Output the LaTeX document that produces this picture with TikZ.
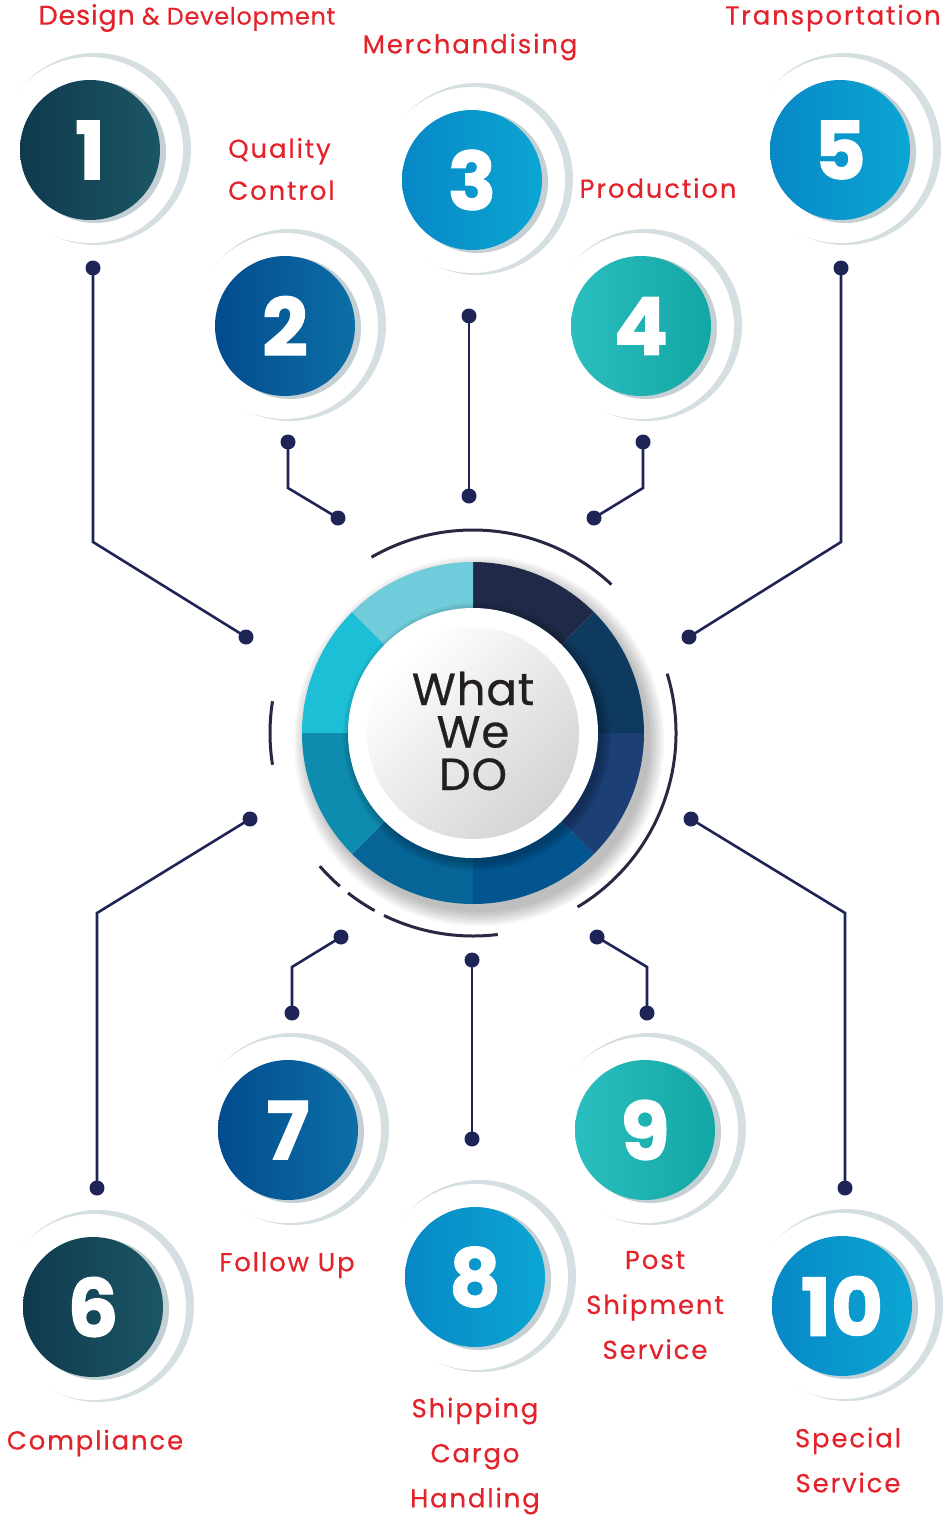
\documentclass[tikz,border=0pt]{standalone}
\usepackage{fontspec}
\setmainfont{Poppins}
\newfontfamily\lblfont[LetterSpace=7,FakeBold=0.4]{Poppins}
\newfontfamily\ddfont[LetterSpace=3,FakeBold=0.3]{Poppins}
\newfontfamily\cenfont[FakeBold=0.6,LetterSpace=2]{Poppins}
\newfontfamily\numfont[FakeBold=1.5,BoldFont={Poppins Bold}]{Poppins}
\definecolor{navy}{HTML}{1F2456}
\definecolor{arcc}{HTML}{262940}
\definecolor{lblred}{HTML}{E3232B}
\definecolor{segA}{HTML}{1E2A47}
\definecolor{segB}{HTML}{0F3A5F}
\definecolor{segC}{HTML}{1C3F75}
\definecolor{segD}{HTML}{02558F}
\definecolor{segE}{HTML}{066496}
\definecolor{segF}{HTML}{0E8CAF}
\definecolor{segG}{HTML}{1DBFD6}
\definecolor{segH}{HTML}{70CBDA}
\definecolor{dtL}{HTML}{0F3A4D}
\definecolor{dtR}{HTML}{1B5664}
\definecolor{blL}{HTML}{034B8E}
\definecolor{blR}{HTML}{0C6FA6}
\definecolor{cyL}{HTML}{0788C6}
\definecolor{cyR}{HTML}{0CA6D3}
\definecolor{tlL}{HTML}{2BBEBE}
\definecolor{tlR}{HTML}{12A6A4}
\definecolor{outsh}{HTML}{D5DEE1}
\definecolor{discsh}{HTML}{C5D0D4}
\definecolor{txtdark}{HTML}{231F20}
\newcommand\numdisc[6]{%
  \fill[outsh] (#2+5,-#3+1) circle (96);
  \fill[white] (#2,-#3) circle (93);
  \fill[discsh] (#2+5,-#3-2) circle (71);
  \shade[left color=#4,right color=#5] (#2,-#3) circle (70);
  \node[num] (#1) at (#2,-#3) {#6};
}
\begin{document}
\begin{tikzpicture}[x=1pt,y=1pt,
  conn/.style={draw=navy,line width=2.6pt},
  dot/.style={circle,fill=navy,inner sep=0pt,minimum size=15pt},
  lbl/.style={text=lblred,font=\lblfont\fontsize{26}{28}\selectfont,inner sep=0pt},
  arcl/.style={draw=arcc,line width=3pt},
  num/.style={text=white,font=\numfont\bfseries\fontsize{80}{80}\selectfont,inner sep=0pt}]
\useasboundingbox (0,0) rectangle (942,-1517);

% number discs
\numdisc{n1}{90}{150}{dtL}{dtR}{1}
\numdisc{n2}{285}{326}{blL}{blR}{2}
\numdisc{n3}{472}{180}{cyL}{cyR}{3}
\numdisc{n4}{641}{326}{tlL}{tlR}{4}
\numdisc{n5}{840}{150}{cyL}{cyR}{5}
\numdisc{n6}{93}{1307}{dtL}{dtR}{6}
\numdisc{n7}{288}{1130}{blL}{blR}{7}
\numdisc{n8}{475}{1277}{cyL}{cyR}{8}
\numdisc{n9}{645}{1130}{tlL}{tlR}{9}
\numdisc{n10}{842}{1306}{cyL}{cyR}{10}

% central ring shadow
\foreach \i in {0,...,7}{
  \fill[black,opacity=0.035] (479,-741) circle (171+2*\i);
}
\coordinate (c) at (473,-733);
\fill[segA] (c) -- ++(90:171) arc (90:45:171) -- cycle;
\fill[segB] (c) -- ++(45:171) arc (45:0:171) -- cycle;
\fill[segC] (c) -- ++(0:171) arc (0:-45:171) -- cycle;
\fill[segD] (c) -- ++(-45:171) arc (-45:-90:171) -- cycle;
\fill[segE] (c) -- ++(-90:171) arc (-90:-135:171) -- cycle;
\fill[segF] (c) -- ++(-135:171) arc (-135:-180:171) -- cycle;
\fill[segG] (c) -- ++(180:171) arc (180:135:171) -- cycle;
\fill[segH] (c) -- ++(135:171) arc (135:90:171) -- cycle;
\foreach \i in {0,...,4}{
  \fill[black,opacity=0.05] (477,-737) circle (126+2*\i);
}
\fill[white] (c) circle (125);
\shade[top color=white,bottom color=black!17,shading angle=45] (c) circle (106);
\node[text=txtdark,font=\cenfont\fontsize{45}{42.5}\selectfont,align=center,inner sep=0pt] (center) at (473,-731) {What\\We\\DO};

% arcs around centre
\draw[arcl] (c) ++(47:203) arc (47:120:203);
\draw[arcl] (c) ++(171:203) arc (171:189:203);
\draw[arcl] (c) ++(-59:203) arc (-59:17:203);
\draw[arcl] (c) ++(-139:203) arc (-139:-131:203);
\draw[arcl] (c) ++(-128:203) arc (-128:-119:203);
\draw[arcl] (c) ++(-116:203) arc (-116:-83:203);

% connectors
\node[dot] (p1a) at (93,-268) {};
\node[dot] (p1b) at (246,-637) {};
\coordinate (b1) at (93,-542);
\draw[conn] (p1a.center) -- (b1) -- (p1b.center);

\node[dot] (p2a) at (288,-442) {};
\node[dot] (p2b) at (338,-518) {};
\coordinate (b2) at (288,-488);
\draw[conn] (p2a.center) -- (b2) -- (p2b.center);

\node[dot] (p3a) at (469,-316) {};
\node[dot] (p3b) at (469,-496) {};
\draw[conn] (p3a.center) -- (p3b.center);

\node[dot] (p4a) at (643,-442) {};
\node[dot] (p4b) at (594,-518) {};
\coordinate (b4) at (643,-488);
\draw[conn] (p4a.center) -- (b4) -- (p4b.center);

\node[dot] (p5a) at (841,-268) {};
\node[dot] (p5b) at (689,-637) {};
\coordinate (b5) at (841,-542);
\draw[conn] (p5a.center) -- (b5) -- (p5b.center);

\node[dot] (p6a) at (250,-819) {};
\node[dot] (p6b) at (97,-1188) {};
\coordinate (b6) at (97,-913);
\draw[conn] (p6a.center) -- (b6) -- (p6b.center);

\node[dot] (p7a) at (341,-937) {};
\node[dot] (p7b) at (292,-1013) {};
\coordinate (b7) at (292,-967);
\draw[conn] (p7a.center) -- (b7) -- (p7b.center);

\node[dot] (p8a) at (472,-960) {};
\node[dot] (p8b) at (472,-1139) {};
\draw[conn] (p8a.center) -- (p8b.center);

\node[dot] (p9a) at (597,-937) {};
\node[dot] (p9b) at (647,-1013) {};
\coordinate (b9) at (647,-967);
\draw[conn] (p9a.center) -- (b9) -- (p9b.center);

\node[dot] (p10a) at (691,-819) {};
\node[dot] (p10b) at (845,-1188) {};
\coordinate (b10) at (845,-913);
\draw[conn] (p10a.center) -- (b10) -- (p10b.center);

% labels
\node[lbl,font=\ddfont\fontsize{24}{28}\selectfont] (l1) at (187,-18) {{\fontsize{27}{28}\selectfont Design} \& Development};
\node[lbl] (l3) at (470,-47) {Merchandising};
\node[lbl] (l5) at (833,-18) {Transportation};
\node[lbl,anchor=west,align=left,font=\lblfont\fontsize{26}{42}\selectfont] (l2) at (228,-169) {Quality\\Control};
\node[lbl] (l4) at (658,-188) {Production};
\node[lbl] (l6) at (95,-1443) {Compliance};
\node[lbl] (l7) at (287,-1265) {Follow Up};
\node[lbl,align=center,font=\lblfont\fontsize{26}{45}\selectfont] (l8) at (475,-1456) {Shipping\\Cargo\\Handling};
\node[lbl,align=center,font=\lblfont\fontsize{26}{45}\selectfont] (l9) at (655,-1305) {Post\\Shipment\\Service};
\node[lbl,align=center,font=\lblfont\fontsize{26}{45}\selectfont] (l10) at (848,-1460) {Special\\Service};
\end{tikzpicture}
\end{document}
